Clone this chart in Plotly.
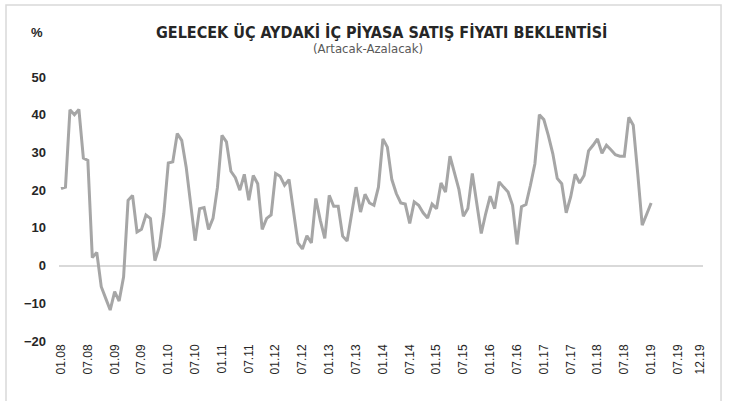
import plotly.graph_objects as go

# Monthly categories 01.08 .. 12.19
months = [f"{m:02d}.{y:02d}" for y in range(8, 20) for m in range(1, 13)]

# Expectation balance (Artacak - Azalacak), %, 01.08 .. 01.19
values = [
    20.4, 20.8, 41.3, 40.0, 41.4, 28.5, 27.9, 2.1, 3.5, -5.6, -8.7, -11.8,
    -6.9, -9.4, -3.0, 17.3, 18.6, 8.9, 9.6, 13.4, 12.5, 1.3, 5.0, 13.8,
    27.2, 27.5, 35.0, 33.2, 26.1, 16.5, 6.6, 15.1, 15.4, 9.6, 12.5, 20.8,
    34.5, 32.8, 25.0, 23.3, 20.0, 24.2, 17.3, 23.9, 21.7, 9.6, 12.5, 13.4,
    24.4, 23.7, 21.3, 22.8, 13.8, 6.0, 4.4, 7.9, 6.0, 17.8, 12.0, 7.2,
    18.6, 15.7, 15.7, 7.8, 6.5, 13.4, 20.8, 14.2, 18.9, 16.6, 16.0, 20.8,
    33.6, 31.4, 22.8, 19.1, 16.6, 16.3, 11.2, 16.9, 16.0, 14.0, 12.6, 16.3,
    15.1, 21.9, 19.5, 29.0, 24.4, 20.2, 13.1, 15.1, 24.4, 16.5, 8.5, 13.8,
    18.4, 15.1, 22.2, 20.8, 19.5, 16.0, 5.6, 15.6, 16.2, 21.3, 27.0, 40.0,
    38.7, 34.5, 29.7, 23.1, 21.7, 14.0, 18.2, 24.2, 21.9, 23.9, 30.4, 31.9,
    33.6, 29.8, 31.9, 30.7, 29.4, 29.0, 29.0, 39.3, 37.2, 24.4, 10.7, 13.6,
    16.6,
]

tick_labels = [months[i] for i in range(0, 144, 6)] + ["12.19"]
tick_idx = list(range(0, 144, 6)) + [143]
y_ticks = [-20, -10, 0, 10, 20, 30, 40, 50]

title_text = "GELECEK ÜÇ AYDAKİ İÇ PİYASA SATIŞ FİYATI BEKLENTİSİ"
subtitle_text = "(Artacak-Azalacak)"

fig = go.Figure()
fig.add_trace(go.Scatter(
    x=list(range(len(values))), y=values, mode="lines",
    line=dict(color="#a6a6a6", width=3), hoverinfo="skip", showlegend=False,
))

fig.update_layout(
    width=729, height=401, autosize=False,
    margin=dict(l=59, r=26, t=77, b=60, autoexpand=False),
    paper_bgcolor="white", plot_bgcolor="white",
    xaxis=dict(
        range=[-0.45, 143.6], tickmode="array", tickvals=tick_idx,
        ticktext=tick_labels, tickangle=-90, showgrid=False, zeroline=False,
        showline=False, ticks="", automargin=False,
        tickfont=dict(family="Liberation Sans, Arial", size=12, color="#262626"),
    ),
    yaxis=dict(
        range=[-20, 50], tickmode="array", tickvals=y_ticks,
        showgrid=False, zeroline=True, zerolinecolor="#d9d9d9", zerolinewidth=2,
        showline=False, ticks="", ticklabelstandoff=12, automargin=False,
        tickfont=dict(family="Liberation Sans, Arial", size=13, color="#262626",
                      weight="bold"),
    ),
    shapes=[dict(type="rect", xref="paper", yref="paper",
                 x0=-0.0823, x1=1.028, y0=-0.26, y1=1.2727,
                 line=dict(color="#d9d9d9", width=1.5), fillcolor="rgba(0,0,0,0)")],
    annotations=[
        dict(text=f"<b>{title_text}</b>", x=381, y=32, xref="paper", yref="paper",
             showarrow=False, font=dict(family="DejaVu Sans Condensed, Arial",
                                        size=16, color="#262626")),
        dict(text=subtitle_text, x=368, y=48, xref="paper", yref="paper",
             showarrow=False, font=dict(family="DejaVu Sans Condensed, Arial",
                                        size=13, color="#595959")),
        dict(text="<b>%</b>", x=37, y=33, xref="paper", yref="paper",
             showarrow=False, font=dict(family="Liberation Sans, Arial", size=13, color="#262626")),
    ],
)

# convert pixel positions for annotations to paper coords
for a in fig.layout.annotations:
    px, py = a.x, a.y
    a.x = (px - 59) / 644
    a.y = (341 - py) / 264
    a.xanchor = "center"
    a.yanchor = "middle"

fig.write_html("out.html", config={"displayModeBar": False},
               post_script="document.body.style.margin='0';")
